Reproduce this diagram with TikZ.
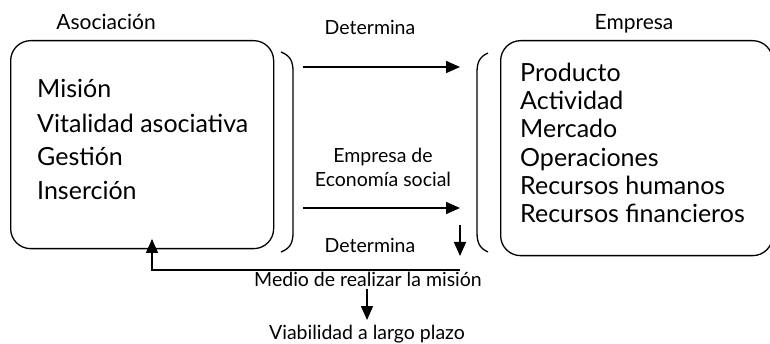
\documentclass[tikz,border=0pt]{standalone}
\usepackage{fontspec}
\setmainfont{Lato}
\usetikzlibrary{arrows.meta}
\begin{document}
\begin{tikzpicture}[x=1pt,y=-1pt,
  box/.style={draw,line width=1.3pt,rounded corners=20pt},
  brk/.style={line width=1.3pt},
  big/.style={font=\fontsize{25}{29}\selectfont,anchor=base west,inner sep=0pt},
  small/.style={font=\fontsize{19.5}{23}\selectfont,anchor=base,inner sep=0pt},
  title/.style={font=\fontsize{21}{24}\selectfont,anchor=base,inner sep=0pt},
  arr/.style={line width=1.5pt,-{Triangle[length=14pt,width=12pt]}}]
\useasboundingbox (0,0) rectangle (770,344);
% boxes
\node[box,minimum width=263pt,minimum height=208pt,anchor=north west] (asoc) at (10,40) {};
\node[box,minimum width=272pt,minimum height=215pt,anchor=north west] (emp) at (500,40) {};
% titles
\node[title] (tasoc) at (106,30) {Asociación};
\node[title] (temp) at (634,30) {Empresa};
% left items
\node[big] (m1) at (37,98) {Misión};
\node[big] (m2) at (37,133) {Vitalidad asociativa};
\node[big] (m3) at (37,166) {Gestión};
\node[big] (m4) at (37,200) {Inserción};
% right items
\node[big] (e1) at (520,82) {Producto};
\node[big] (e2) at (520,110) {Actividad};
\node[big] (e3) at (520,138) {Mercado};
\node[big] (e4) at (520,167) {Operaciones};
\node[big] (e5) at (520,195) {Recursos humanos};
\node[big] (e6) at (520,223) {Recursos financieros};
% brackets
\draw[brk] (281,52) .. controls (291,56) and (293,62) .. (293,72) -- (293,232) .. controls (293,242) and (291,248) .. (281,252);
\draw[brk] (488,53) .. controls (479,57) and (477,63) .. (477,73) -- (477,232) .. controls (477,242) and (479,248) .. (488,252);
% labels
\node[small] (d1) at (370,35) {Determina};
\node[small] (eco1) at (383,163) {Empresa de};
\node[small] (eco2) at (383,187) {Economía social};
\node[small] (d2) at (370,253) {Determina};
\node[small] (medio) at (368,287) {Medio de realizar la misión};
\node[small] (viab) at (367,339) {Viabilidad a largo plazo};
% coordinates
\coordinate (a1s) at (303,67); \coordinate (a1e) at (460,67);
\coordinate (a2s) at (303,208); \coordinate (a2e) at (460,208);
\coordinate (a3s) at (460,225); \coordinate (a3e) at (460,256);
\coordinate (ls) at (460,270); \coordinate (lc) at (152,270); \coordinate (le) at (152,239);
\coordinate (a4s) at (367,289); \coordinate (a4e) at (367,320);
% arrows
\draw[arr] (a1s) -- (a1e);
\draw[arr] (a2s) -- (a2e);
\draw[arr] (a3s) -- (a3e);
\draw[arr] (ls) -- (lc) -- (le);
\draw[arr] (a4s) -- (a4e);
\end{tikzpicture}
\end{document}
